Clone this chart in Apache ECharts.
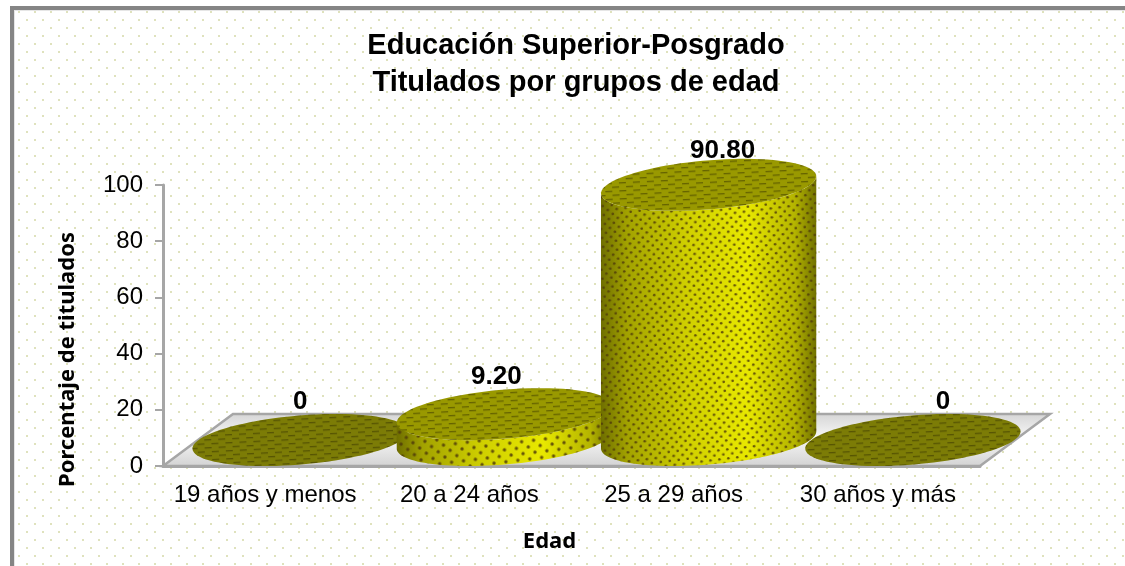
<!DOCTYPE html>
<html>
<head>
<meta charset="utf-8">
<style>html,body{margin:0;padding:0;background:#fff}#c{width:1125px;height:566px}</style>
<script src="https://cdn.jsdelivr.net/npm/echarts@6/dist/echarts.min.js"></script>
</head>
<body>
<div id="c"></div>
<script>
const categories = ['19 años y menos', '20 a 24 años', '25 a 29 años', '30 años y más'];
const values = [0, 9.2, 90.8, 0];
const valueLabels = ['0', '9.20', '90.80', '0'];
const titleLines = 'Educación Superior-Posgrado\nTitulados por grupos de edad';
const yName = 'Porcentaje de titulados';
const xName = 'Edad';

// style / layout constants
const labelShiftX = [0, -8, 14, 30];
const labelShiftY = [-39, -38, -35, -39];
const DEPTH_X = 70, DEPTH_Y = 52;     // floor depth
const A = 108, B = 24.5, TILT = -4.8 * Math.PI / 180;

function tile(w, h, draw) {
  const c = document.createElement('canvas');
  c.width = w; c.height = h;
  draw(c.getContext('2d'));
  return c;
}
const bgTile = tile(16, 16, g => {
  g.fillStyle = '#dfe2bd';
  g.fillRect(2, 11, 2, 2);
  g.fillRect(10, 3, 2, 2);
});
function dotTile(s, r) {
  return tile(s, s, g => {
    g.fillStyle = 'rgba(80,60,10,0.85)';
    [[s / 4, s / 4], [3 * s / 4, 3 * s / 4]].forEach(p => {
      g.beginPath(); g.arc(p[0], p[1], r, 0, 7); g.fill();
    });
  });
}
const dashTile = tile(14, 8, g => {
  g.fillStyle = 'rgba(50,45,0,0.5)';
  g.fillRect(0, 1, 7, 1);
  g.fillRect(7, 5, 7, 1);
  g.fillStyle = 'rgba(50,45,0,0.16)';
  g.fillRect(0, 2, 7, 1);
  g.fillRect(7, 6, 7, 1);
});
const dotsBig = dotTile(12, 1.7);
const dotsFine = dotTile(9, 1.35);

function ellipsePoint(cx, cy, t) {
  const c = Math.cos(t), s = Math.sin(t);
  return [cx + A * c * Math.cos(TILT) - B * s * Math.sin(TILT),
          cy + A * c * Math.sin(TILT) + B * s * Math.cos(TILT)];
}
function ellipseArc(cx, cy, from, to, n) {
  const pts = [];
  for (let i = 0; i <= n; i++) pts.push(ellipsePoint(cx, cy, from + (to - from) * i / n));
  return pts;
}
const T0 = Math.atan2(-B * Math.sin(TILT), A * Math.cos(TILT)); // right-most parameter

const sideGradient = {
  type: 'linear', x: 0, y: 0, x2: 1, y2: 0,
  colorStops: [
    { offset: 0, color: '#6f6f00' }, { offset: 0.12, color: '#a2a200' },
    { offset: 0.4, color: '#d0d000' }, { offset: 0.68, color: '#e8e800' },
    { offset: 0.9, color: '#b4b400' }, { offset: 1, color: '#717100' }
  ]
};

function renderFloor(params, api) {
  const band = api.size([1, 0])[0];
  const p = api.coord([0, 0]);
  const x0 = p[0] - band / 2, y0 = p[1];
  const x1 = x0 + band * categories.length;
  return {
    type: 'polygon',
    shape: { points: [[x0, y0], [x1, y0], [x1 + DEPTH_X, y0 - DEPTH_Y], [x0 + DEPTH_X, y0 - DEPTH_Y]] },
    style: {
      fill: { type: 'linear', x: 0, y: 0, x2: 0, y2: 1, colorStops: [
        { offset: 0, color: '#d4d4d4' }, { offset: 0.45, color: '#f7f7f7' }, { offset: 1, color: '#d2d2d2' } ] },
      stroke: '#a6a6a6', lineWidth: 2.5
    }
  };
}

function renderCylinder(params, api) {
  const i = params.dataIndex;
  const v = api.value(1);
  const front = api.coord([i, 0]);
  const top = api.coord([i, v]);
  const cx = front[0] + DEPTH_X / 2;
  const by = front[1] - DEPTH_Y / 2;
  const ty = top[1] - DEPTH_Y / 2;
  const z = v * 10;
  const children = [];
  const full = ellipseArc(cx, ty, 0, Math.PI * 2, 90);
  if (v > 0) {
    const side = ellipseArc(cx, by, T0, T0 + Math.PI, 60)
      .concat(ellipseArc(cx, ty, T0 + Math.PI, T0, 60));
    const dots = v > 50 ? dotsFine : dotsBig;
    children.push({ type: 'polygon', z2: z, shape: { points: side }, style: { fill: sideGradient } });
    children.push({ type: 'polygon', z2: z + 1, shape: { points: side },
      style: { fill: { image: dots, repeat: 'repeat', rotation: -0.12 } } });
  }
  children.push({ type: 'polygon', z2: z + 2, shape: { points: full },
    style: { fill: v > 0 ? '#999900' : '#7c7c06' } });
  children.push({ type: 'polygon', z2: z + 3, shape: { points: full },
    style: { fill: { image: dashTile, repeat: 'repeat', rotation: -0.05 } } });
  children.push({ type: 'text', z2: 5000,
    style: { x: cx + labelShiftX[i], y: ty + labelShiftY[i] + 1, text: valueLabels[i], align: 'center',
      verticalAlign: 'middle', fontFamily: 'Liberation Sans', fontWeight: 'bold', fontSize: 26, fill: '#000' } });
  return { type: 'group', children };
}

const chart = echarts.init(document.getElementById('c'), null, { renderer: 'canvas' });
chart.setOption({
  animation: false,
  backgroundColor: '#fff',
  title: {
    text: titleLines, left: 571, top: 22, textAlign: 'center',
    textStyle: { fontFamily: 'Liberation Sans', fontWeight: 'bold', fontSize: 29, lineHeight: 37, color: '#000' }
  },
  graphic: [
    { type: 'rect', z: -10, shape: { x: 14, y: 10, width: 1111, height: 556 }, style: { fill: { image: bgTile, repeat: 'repeat' } } },
    { type: 'rect', z: -9, shape: { x: 10, y: 6, width: 1115, height: 4 }, style: { fill: '#858585' } },
    { type: 'rect', z: -9, shape: { x: 10, y: 6, width: 4, height: 560 }, style: { fill: '#858585' } },
    { type: 'rect', z: -9, shape: { x: 14, y: 10, width: 1111, height: 1 }, style: { fill: '#e6e6e6' } },
    { type: 'rect', z: -9, shape: { x: 14, y: 10, width: 1, height: 556 }, style: { fill: '#e6e6e6' } }
  ],
  grid: { left: 163, top: 185, width: 817, height: 281 },
  xAxis: {
    type: 'category', data: categories, z: 3,
    name: xName, nameLocation: 'middle', nameGap: 65,
    nameTextStyle: { fontFamily: 'Noto Sans', fontWeight: 'bold', fontSize: 22, color: '#000', padding: [0, 44, 0, 0] },
    axisLine: { lineStyle: { color: '#a6a6a6', width: 3 } },
    axisTick: { show: false },
    axisLabel: { interval: 0, fontFamily: 'Liberation Sans', fontSize: 24, color: '#000', margin: 17 }
  },
  yAxis: {
    type: 'value', min: 0, max: 100, interval: 20, z: 3,
    name: yName, nameLocation: 'middle', nameRotate: 90, nameGap: 84,
    nameTextStyle: { fontFamily: 'Noto Sans', fontWeight: 'bold', fontSize: 22, color: '#000', padding: [0, 68, 0, 0] },
    axisLine: { show: true, lineStyle: { color: '#a6a6a6', width: 3 } },
    axisTick: { show: true, length: 8, lineStyle: { color: '#a6a6a6', width: 2 } },
    axisLabel: { fontFamily: 'Liberation Sans', fontSize: 24, color: '#000', margin: 20 },
    splitLine: { show: false }
  },
  series: [
    { type: 'custom', z: 1, silent: true, renderItem: renderFloor, data: [[0, 0]],
      encode: { x: 0, y: 1 } },
    { type: 'custom', z: 4, silent: true, renderItem: renderCylinder,
      data: values.map((v, i) => [i, v]), encode: { x: 0, y: 1 } }
  ]
});
</script>
</body>
</html>
